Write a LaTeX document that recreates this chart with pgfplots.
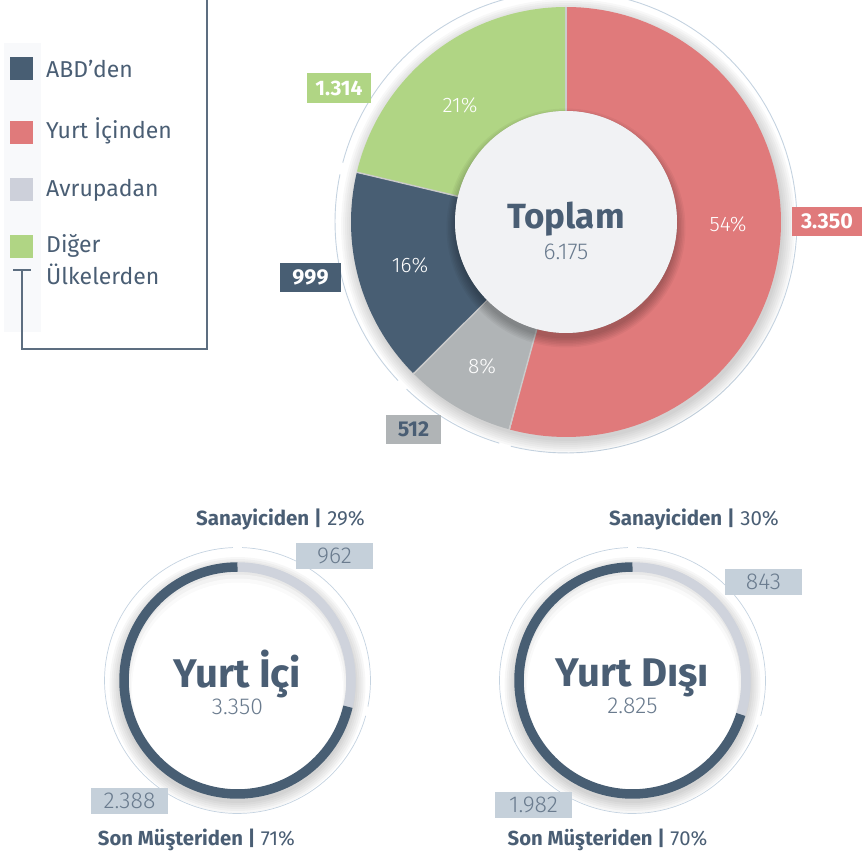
\documentclass[border=0pt]{standalone}
\usepackage{fontspec}
\setmainfont{Fira Sans}
\newfontfamily\lightfont{Fira Sans Light}
\usepackage{pgfplots}
\pgfplotsset{compat=1.18}
\definecolor{cBlue}{HTML}{485E73}
\definecolor{cRed}{HTML}{E07A7B}
\definecolor{cGray}{HTML}{B0B4B6}
\definecolor{cGreen}{HTML}{B0D584}
\definecolor{cLeg}{HTML}{CDD0DA}
\definecolor{cRing}{HTML}{CFD3DC}
\definecolor{cBox}{HTML}{C5D0DA}
\definecolor{cTxt}{HTML}{4A5E74}
\definecolor{cLight}{HTML}{6A7B8E}
\definecolor{cBg}{HTML}{F8F9FB}
\definecolor{cDisc}{HTML}{F1F2F4}
\definecolor{cThin}{HTML}{C5D3E0}
\definecolor{cSep}{HTML}{CBCBCB}
\definecolor{cLine}{HTML}{5D6E80}
% data
\def\vYurt{3350}\def\vAvr{512}\def\vABD{999}\def\vDig{1314}
\def\vISan{962}\def\vIMus{2388}
\def\vDSan{843}\def\vDMus{1982}
\newcommand\fs[1]{\fontsize{#1}{#1}\selectfont}
\begin{document}
\begin{tikzpicture}
\useasboundingbox (0,0) rectangle (862pt,851pt);
\pgfmathsetmacro{\tot}{\vYurt+\vAvr+\vABD+\vDig}
\pgfmathsetmacro{\aA}{90-360*(\vYurt/\tot)}
\pgfmathsetmacro{\aB}{\aA-360*(\vAvr/\tot)}
\pgfmathsetmacro{\aC}{\aB-360*(\vABD/\tot)}
\pgfmathsetmacro{\aAg}{\aA+1.5}\pgfmathsetmacro{\aAh}{\aA-1.5}
\pgfmathsetmacro{\aBg}{\aB+1.5}\pgfmathsetmacro{\aBh}{\aB-1.5}
\pgfmathsetmacro{\aCg}{\aC+1.5}\pgfmathsetmacro{\aCh}{\aC-1.5}
\pgfmathsetmacro{\bI}{90-360*(\vISan/(\vISan+\vIMus))}
\pgfmathsetmacro{\bIg}{\bI+2}\pgfmathsetmacro{\bIh}{\bI+358}
\pgfmathsetmacro{\bD}{90-360*(\vDSan/(\vDSan+\vDMus))}
\pgfmathsetmacro{\bDg}{\bD+2}\pgfmathsetmacro{\bDh}{\bD+358}
\begin{axis}[scale only axis, width=862pt, height=851pt,
  xmin=0, xmax=862, ymin=0, ymax=851, axis lines=none, clip=false,
  every axis plot/.append style={no markers}]
% ---------- legend ----------
\addplot[fill=cBg, draw=none] coordinates {(4,519) (41,519) (41,808) (4,808)} -- cycle;
\addplot[draw=cLine, line width=1.3pt] coordinates {(207,851) (207,502) (22,502) (22,581)};
\addplot[draw=cLine, line width=1.3pt] coordinates {(13,581) (31,581)};
\node[fill=cBlue, minimum size=23pt, inner sep=0] at (axis cs:21.5,782.5) {};
\node[fill=cRed, minimum size=23pt, inner sep=0] at (axis cs:21.5,718.5) {};
\node[fill=cLeg, minimum size=23pt, inner sep=0] at (axis cs:21.5,661.5) {};
\node[fill=cGreen, minimum size=23pt, inner sep=0] at (axis cs:21.5,604.5) {};
\node[anchor=base west, inner sep=0, text=cTxt, font=\fs{23}] at (axis cs:46,773) {ABD’den};
\node[anchor=base west, inner sep=0, text=cTxt, font=\fs{23}] at (axis cs:46,712) {Yurt İçinden};
\node[anchor=base west, inner sep=0, text=cTxt, font=\fs{23}] at (axis cs:46,654) {Avrupadan};
\node[anchor=base west, inner sep=0, text=cTxt, font=\fs{23}] at (axis cs:46,598) {Diğer};
\node[anchor=base west, inner sep=0, text=cTxt, font=\fs{23}] at (axis cs:46,566) {Ülkelerden};
% ---------- top donut ----------
\addplot[draw=cThin, line width=0.9pt, domain=\aAg:88.5, samples=80] ({566+231*cos(x)},{629+231*sin(x)});
\addplot[draw=cThin, line width=0.9pt, domain=\aBg:\aAh, samples=20] ({566+231*cos(x)},{629+231*sin(x)});
\addplot[draw=cThin, line width=0.9pt, domain=\aCg:\aBh, samples=30] ({566+231*cos(x)},{629+231*sin(x)});
\addplot[draw=cThin, line width=0.9pt, domain=-268.5:\aCh, samples=40] ({566+231*cos(x)},{629+231*sin(x)});
\pgfplotsinvokeforeach{1,...,7}{
 \addplot[fill=black, fill opacity=0.028, draw=none, domain=0:360, samples=120] ({568+(213+2*#1)*cos(x)},{625+(213+2*#1)*sin(x)});
}
\addplot[draw=cRed, line width=104pt, line cap=butt, domain=\aA:90, samples=100] ({566+163*cos(x)},{629+163*sin(x)});
\addplot[draw=cGray, line width=104pt, line cap=butt, domain=\aB:\aA, samples=20] ({566+163*cos(x)},{629+163*sin(x)});
\addplot[draw=cBlue, line width=104pt, line cap=butt, domain=\aC:\aB, samples=40] ({566+163*cos(x)},{629+163*sin(x)});
\addplot[draw=cGreen, line width=104pt, line cap=butt, domain=-270:\aC, samples=50] ({566+163*cos(x)},{629+163*sin(x)});
\addplot[draw=cSep, line width=1.4pt, domain=110:215, samples=2] ({566+x*cos(90)},{629+x*sin(90)});
\addplot[draw=cSep, line width=1.4pt, domain=110:215, samples=2] ({566+x*cos(\aA)},{629+x*sin(\aA)});
\addplot[draw=cSep, line width=1.4pt, domain=110:215, samples=2] ({566+x*cos(\aB)},{629+x*sin(\aB)});
\addplot[draw=cSep, line width=1.4pt, domain=110:215, samples=2] ({566+x*cos(\aC)},{629+x*sin(\aC)});
\pgfplotsinvokeforeach{1,...,7}{
 \addplot[fill=black, fill opacity=0.04, draw=none, domain=0:360, samples=100] ({566+(109+#1*1.5)*cos(x)},{623+(109+#1*1.5)*sin(x)});
}
\addplot[fill=cDisc, draw=none, domain=0:360, samples=120] ({566+111*cos(x)},{629+111*sin(x)});
\node[anchor=base, text=cTxt, font=\bfseries\fs{35}] at (axis cs:566,622) {Toplam};
\node[anchor=base, text=cLight, font=\lightfont\fs{23}] at (axis cs:566,591) {6.175};
\node[text=white, font=\lightfont\fs{21}] at (axis cs:460,746) {21\%};
\node[text=white, font=\lightfont\fs{21}] at (axis cs:728,627) {54\%};
\node[text=white, font=\lightfont\fs{21}] at (axis cs:410,586) {16\%};
\node[text=white, font=\lightfont\fs{21}] at (axis cs:482,485) {8\%};
\node[fill=cGreen, text=white, font=\bfseries\fs{21}, minimum width=64pt, minimum height=30pt, inner sep=0] at (axis cs:339,763) {1.314};
\node[fill=cRed, text=white, font=\bfseries\fs{21.5}, minimum width=70pt, minimum height=29pt, inner sep=0] at (axis cs:827,629.5) {3.350};
\node[fill=cBlue, text=white, font=\bfseries\fs{21.5}, minimum width=61pt, minimum height=29pt, inner sep=0] at (axis cs:310.5,573.5) {999};
\node[fill=cGray, text=cTxt, font=\bfseries\fs{21.5}, minimum width=55pt, minimum height=29pt, inner sep=0] at (axis cs:413.5,421.5) {512};
% ---------- bottom donuts ----------
% Yurt Ici
\addplot[draw=cThin, line width=0.7pt, domain=\bIg:88, samples=40] ({237.5+133*cos(x)},{170.5+133*sin(x)});
\addplot[draw=cThin, line width=0.7pt, domain=92:\bIh, samples=90] ({237.5+133*cos(x)},{170.5+133*sin(x)});
\pgfplotsinvokeforeach{1,...,6}{
 \addplot[fill=black, fill opacity=0.03, draw=none, domain=0:360, samples=100] ({237.5+(116+2*#1)*cos(x)},{166+(116+2*#1)*sin(x)});
}
\addplot[fill=black!9, draw=none, domain=0:360, samples=100] ({237.5+110*cos(x)},{170.5+110*sin(x)});
\addplot[fill=black!5, draw=none, domain=0:360, samples=100] ({237.5+108.5*cos(x)},{168+108.5*sin(x)});
\addplot[fill=black!2, draw=none, domain=0:360, samples=100] ({237.5+107*cos(x)},{165.5+107*sin(x)});
\addplot[fill=white, draw=none, domain=0:360, samples=100] ({237.5+105.5*cos(x)},{163+105.5*sin(x)});
\addplot[draw=cRing, line width=9.5pt, line cap=butt, domain=\bI:90, samples=40] ({237.5+113.5*cos(x)},{170.5+113.5*sin(x)});
\addplot[draw=cBlue, line width=9.5pt, line cap=butt, domain=-270:\bI, samples=100] ({237.5+113.5*cos(x)},{170.5+113.5*sin(x)});
\node[anchor=base, text=cTxt, font=\bfseries\fs{40}] at (axis cs:237.5,163) {Yurt İçi};
\node[anchor=base, text=cLight, font=\lightfont\fs{23}] at (axis cs:237.5,136) {3.350};
\node[anchor=base, text=cTxt, font=\fs{20.5}] at (axis cs:280.5,325) {\textbf{Sanayiciden |} 29\%};
\node[anchor=base, text=cTxt, font=\fs{20.3}] at (axis cs:196.5,5) {\textbf{Son Müşteriden |} 71\%};
\node[fill=cBox, text=cLight, font=\lightfont\fs{23}, minimum width=77pt, minimum height=26pt, inner sep=0] at (axis cs:334.5,295) {962};
\node[fill=cBox, text=cLight, font=\lightfont\fs{23}, minimum width=77pt, minimum height=26pt, inner sep=0] at (axis cs:129.5,50) {2.388};
% Yurt Disi
\addplot[draw=cThin, line width=0.7pt, domain=\bDg:88, samples=40] ({632.5+133*cos(x)},{170.5+133*sin(x)});
\addplot[draw=cThin, line width=0.7pt, domain=92:\bDh, samples=90] ({632.5+133*cos(x)},{170.5+133*sin(x)});
\pgfplotsinvokeforeach{1,...,6}{
 \addplot[fill=black, fill opacity=0.03, draw=none, domain=0:360, samples=100] ({632.5+(116+2*#1)*cos(x)},{166+(116+2*#1)*sin(x)});
}
\addplot[fill=black!9, draw=none, domain=0:360, samples=100] ({632.5+110*cos(x)},{170.5+110*sin(x)});
\addplot[fill=black!5, draw=none, domain=0:360, samples=100] ({632.5+108.5*cos(x)},{168+108.5*sin(x)});
\addplot[fill=black!2, draw=none, domain=0:360, samples=100] ({632.5+107*cos(x)},{165.5+107*sin(x)});
\addplot[fill=white, draw=none, domain=0:360, samples=100] ({632.5+105.5*cos(x)},{163+105.5*sin(x)});
\addplot[draw=cRing, line width=9.5pt, line cap=butt, domain=\bD:90, samples=40] ({632.5+113.5*cos(x)},{170.5+113.5*sin(x)});
\addplot[draw=cBlue, line width=9.5pt, line cap=butt, domain=-270:\bD, samples=100] ({632.5+113.5*cos(x)},{170.5+113.5*sin(x)});
\node[anchor=base, text=cTxt, font=\bfseries\fs{40}] at (axis cs:632.5,164) {Yurt Dışı};
\node[anchor=base, text=cLight, font=\lightfont\fs{23}] at (axis cs:632.5,137) {2.825};
\node[anchor=base, text=cTxt, font=\fs{20.5}] at (axis cs:694,325) {\textbf{Sanayiciden |} 30\%};
\node[anchor=base, text=cTxt, font=\fs{20.3}] at (axis cs:607.5,5) {\textbf{Son Müşteriden |} 70\%};
\node[fill=cBox, text=cLight, font=\lightfont\fs{23}, minimum width=77pt, minimum height=26pt, inner sep=0] at (axis cs:763.5,269) {843};
\node[fill=cBox, text=cLight, font=\lightfont\fs{23}, minimum width=77pt, minimum height=26pt, inner sep=0] at (axis cs:533.5,46) {1.982};
\end{axis}
\end{tikzpicture}
\end{document}
